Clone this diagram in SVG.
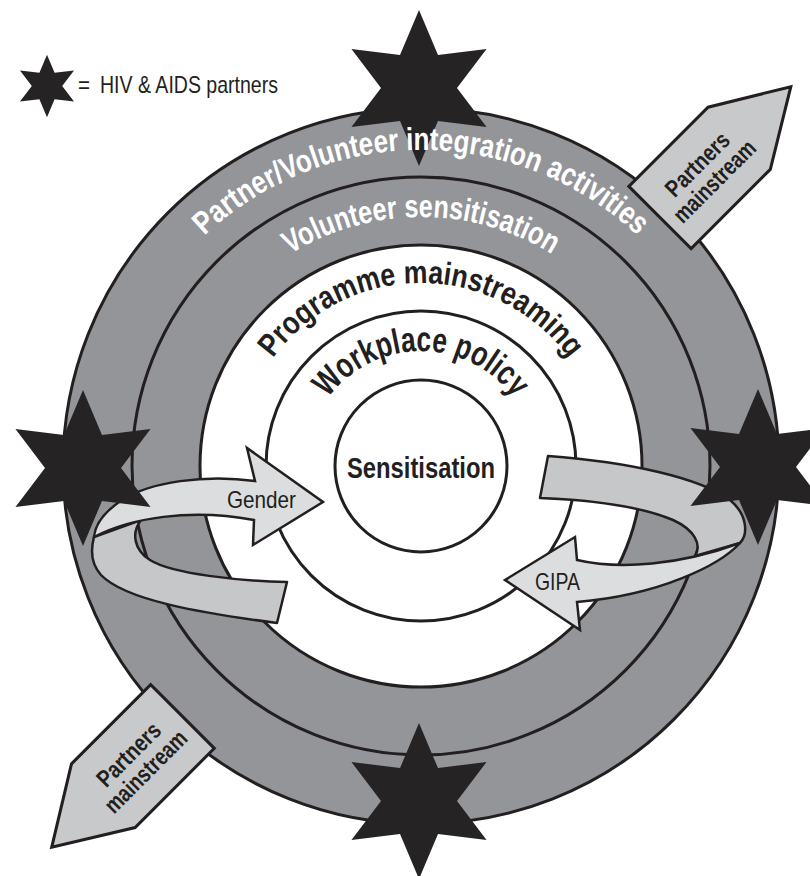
<svg xmlns="http://www.w3.org/2000/svg" width="810" height="876" viewBox="0 0 810 876">
<style>
.ring{fill:none;stroke:#231f20;stroke-width:3;}
.star{fill:#262324;}
.wt{fill:#fff;font-family:"Liberation Sans",Arial,sans-serif;font-weight:bold;font-size:32px;}
.bt{fill:#231f20;font-family:"Liberation Sans",Arial,sans-serif;font-weight:bold;}
.reg{fill:#231f20;font-family:"Liberation Sans",Arial,sans-serif;font-size:24px;}
.pm{fill:#c8c9cb;stroke:#231f20;stroke-width:3;}
.back{fill:#c6c7c9;stroke:#231f20;stroke-width:2.5;stroke-linejoin:round;}
.front{fill:#dcdddf;stroke:#231f20;stroke-width:2.5;}
</style>
<defs>
<path id="star" d="M0,-78 L19,-32.91 L67.55,-39 L38,0 L67.55,39 L19,32.91 L0,78 L-19,32.91 L-67.55,39 L-38,0 L-67.55,-39 L-19,-32.91 Z"/>
<path id="arcOuter" d="M105,466 A316,316 0 0 1 737,466"/>
<path id="arcVol" d="M172,466 A249,249 0 0 1 670,466"/>
<path id="arcProg" d="M238,466 A183,183 0 0 1 604,466"/>
<path id="arcWork" d="M306,466 A115,115 0 0 1 536,466"/>
</defs>
<rect width="810" height="876" fill="#fff"/>

<g id="ring-partner-volunteer">
<circle cx="421" cy="466" r="358" fill="#939598" stroke="#231f20" stroke-width="3"/>
</g>
<g id="ring-volunteer-sensitisation">
<circle class="ring" cx="421" cy="466" r="289"/>
</g>
<g id="ring-programme-mainstreaming">
<circle cx="421" cy="466" r="221" fill="#fff" stroke="#231f20" stroke-width="3"/>
</g>
<g id="ring-workplace-policy">
<circle class="ring" cx="421" cy="466" r="155"/>
</g>
<g id="ring-sensitisation">
<circle class="ring" cx="421" cy="466" r="86"/>
</g>

<g id="partners-mainstream-top" transform="translate(660,217.5) rotate(-45)">
<polygon class="pm" points="0,-44 112,-44 185,0 112,44 0,44"/>
<text class="bt" font-size="24" text-anchor="middle" x="64" y="-3" textLength="80" lengthAdjust="spacingAndGlyphs">Partners</text>
<text class="bt" font-size="24" text-anchor="middle" x="64" y="21" textLength="106" lengthAdjust="spacingAndGlyphs">mainstream</text>
</g>
<g id="partners-mainstream-bottom" transform="translate(182.5,716.5) rotate(-45)">
<polygon class="pm" points="0,-45 -112,-45 -185,0 -112,45 0,45"/>
<text class="bt" font-size="24" text-anchor="middle" x="-65" y="-3" textLength="80" lengthAdjust="spacingAndGlyphs">Partners</text>
<text class="bt" font-size="24" text-anchor="middle" x="-65" y="21" textLength="106" lengthAdjust="spacingAndGlyphs">mainstream</text>
</g>

<g id="connectors">
<g id="gender-arrow">
<path class="back" d="M287,582 C240,581 172,574 150,560 C134,550 131,533 141,520 L94,537 C90,552 92,565 101,575 C125,600 200,613 277,623 Z"/>
<path class="front" d="M255,481 C205,474 150,482 122,500 C104,512 95,525 94,537 C130,518 190,508 254,520 L253,545 L323,502 L247,448 Z"/>
<text class="reg" x="227" y="508" textLength="69" lengthAdjust="spacingAndGlyphs">Gender</text>
</g>
<g id="gipa-arrow">
<path class="back" d="M548,456 C630,462 700,478 730,500 C748,515 748,535 740,543 L695,556 C702,545 695,530 673,520 C640,506 590,500 540,498 Z"/>
<path class="front" d="M577,560 C620,570 680,565 740,543 C720,565 660,595 577,602 L580,630 L505,580 L575,537 Z"/>
<text class="reg" x="535" y="590" textLength="45" lengthAdjust="spacingAndGlyphs">GIPA</text>
</g>
</g>

<g id="partners-stars">
<use href="#star" class="star" x="419" y="88"/>
<use href="#star" class="star" x="419" y="801"/>
<use href="#star" class="star" x="83" y="468"/>
<use href="#star" class="star" x="758" y="467"/>
</g>

<g id="ring-labels">
<text class="wt"><textPath href="#arcOuter" startOffset="50%" text-anchor="middle" textLength="477" lengthAdjust="spacingAndGlyphs">Partner/Volunteer integration activities</textPath></text>
<text class="wt"><textPath href="#arcVol" startOffset="50%" text-anchor="middle" textLength="276" lengthAdjust="spacingAndGlyphs">Volunteer sensitisation</textPath></text>
<text class="bt" font-size="32"><textPath href="#arcProg" startOffset="50%" text-anchor="middle" textLength="345" lengthAdjust="spacingAndGlyphs">Programme mainstreaming</textPath></text>
<text class="bt" font-size="35"><textPath href="#arcWork" startOffset="50%" text-anchor="middle" textLength="216" lengthAdjust="spacingAndGlyphs">Workplace policy</textPath></text>
<text class="bt" font-size="30" x="421" y="478" text-anchor="middle" textLength="148" lengthAdjust="spacingAndGlyphs">Sensitisation</text>
</g>

<g id="legend">
<g transform="translate(47,86) scale(0.4)"><use href="#star" class="star"/></g>
<text class="reg" x="78" y="93" textLength="12" lengthAdjust="spacingAndGlyphs">=</text>
<text class="reg" x="100" y="93" textLength="178" lengthAdjust="spacingAndGlyphs">HIV &amp; AIDS partners</text>
</g>
</svg>
